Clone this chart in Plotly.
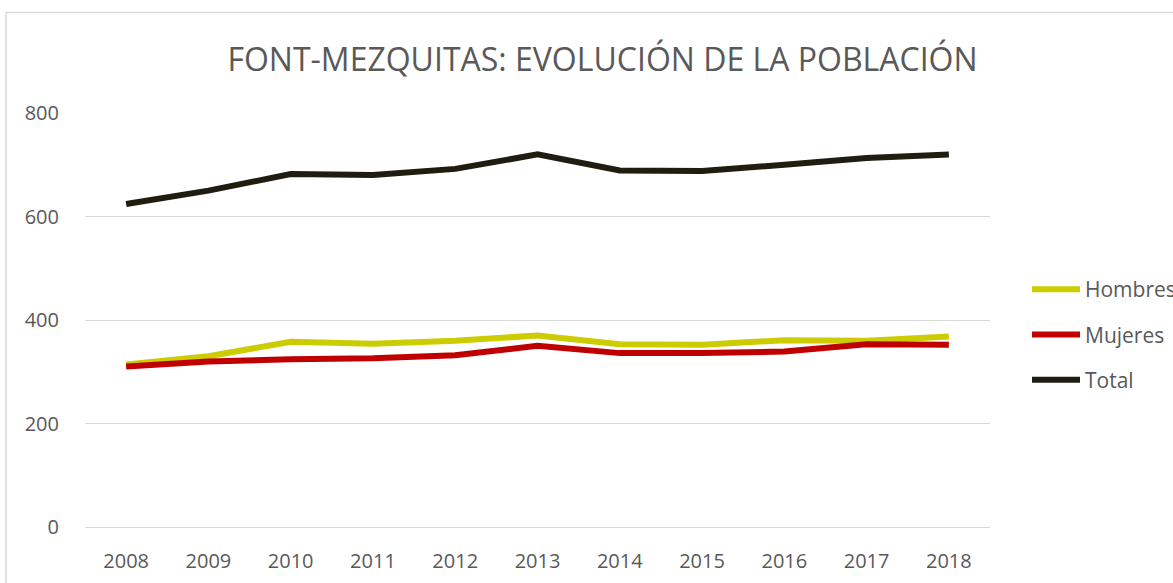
import plotly.graph_objects as go

years = ["2008", "2009", "2010", "2011", "2012", "2013", "2014", "2015", "2016", "2017", "2018"]
hombres = [314, 330, 358, 354, 360, 370, 353, 352, 361, 360, 368]
mujeres = [310, 320, 324, 326, 332, 350, 336, 336, 339, 353, 352]
total = [624, 650, 682, 680, 692, 720, 689, 688, 700, 713, 720]
y_ticks = [0, 200, 400, 600, 800]

W, H = 1173, 583
L, R, T, B = 85, 183, 113, 56

font_family = "Open Sans, Noto Sans, sans-serif"
txt = "#595959"

fig = go.Figure()
series = [("Hombres", hombres, "#cccc00"), ("Mujeres", mujeres, "#c00000"), ("Total", total, "#1f1c10")]
for name, vals, col in series:
    fig.add_trace(go.Scatter(x=years, y=vals, name=name, mode="lines",
                             line=dict(color=col, width=6), legendgroup=name))

def px_x(p):
    return (p - L) / (W - L - R)

def px_y(p):
    return (H - B - p) / (H - T - B)

fig.add_shape(type="rect", xref="paper", yref="paper",
              x0=px_x(6), x1=px_x(1190), y0=px_y(12.5), y1=px_y(600),
              line=dict(color="#d9d9d9", width=1.5), layer="below")

fig.update_layout(
    width=W, height=H,
    margin=dict(l=L, r=R, t=T, b=B, autoexpand=False),
    paper_bgcolor="white", plot_bgcolor="white",
    font=dict(family=font_family, color=txt, size=20),
    title=dict(text="FONT-MEZQUITAS: EVOLUCIÓN DE LA POBLACIÓN",
               x=px_x(602.5), xref="paper", xanchor="center",
               y=1 - 60 / H, yref="container", yanchor="middle",
               font=dict(size=32, color=txt, family=font_family)),
    legend=dict(x=px_x(1027), xanchor="left", y=px_y(269), yanchor="top",
                font=dict(size=21, color=txt), tracegroupgap=15,
                bgcolor="rgba(0,0,0,0)", itemwidth=48),
    showlegend=True,
)
fig.update_xaxes(type="category", range=[-0.5, 10.5], showgrid=False, zeroline=False,
                 showline=False, ticks="", tickfont=dict(size=20, color=txt),
                 ticklabelstandoff=20, automargin=False)
fig.update_yaxes(range=[0, 800], tickvals=y_ticks, showgrid=True, gridcolor="#d9d9d9",
                 gridwidth=1, zeroline=True, zerolinecolor="#d9d9d9", zerolinewidth=1,
                 showline=False, ticks="",
                 tickfont=dict(size=20, color=txt), ticklabelstandoff=25, automargin=False)

fig.write_html("out.html", config={"displayModeBar": False},
               post_script="document.body.style.margin='0';")
